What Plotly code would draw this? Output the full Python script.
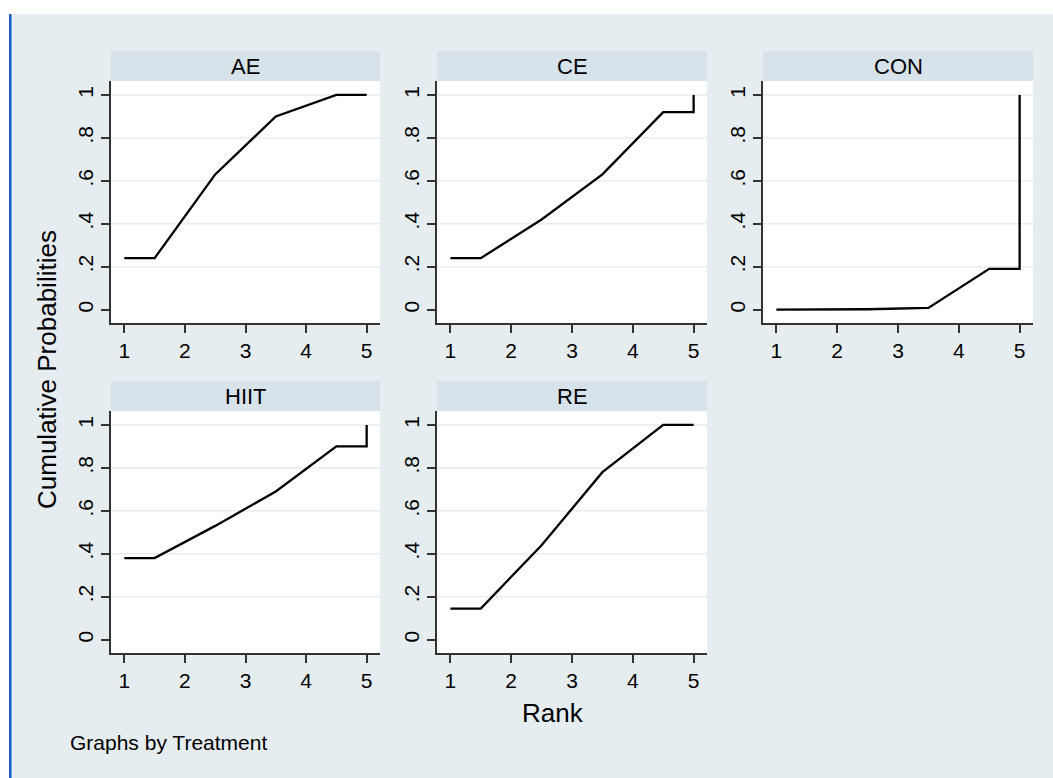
import plotly.graph_objects as go

# ---- data ----
treatments = ["AE", "CE", "CON", "HIIT", "RE"]
cum_AE = [0.24, 0.63, 0.90, 1.00, 1.00]
cum_CE = [0.24, 0.42, 0.63, 0.92, 1.00]
cum_CON = [0.00, 0.002, 0.008, 0.19, 1.00]
cum_HIIT = [0.38, 0.53, 0.69, 0.90, 1.00]
cum_RE = [0.145, 0.44, 0.78, 1.00, 1.00]
cum_values = [cum_AE, cum_CE, cum_CON, cum_HIIT, cum_RE]
rank_x = [1, 1.5, 2.5, 3.5, 4.5, 5, 5]
x_ticks = [1, 2, 3, 4, 5]
y_ticks = [0, 0.2, 0.4, 0.6, 0.8, 1]
y_ticklabels = ["0", ".2", ".4", ".6", ".8", "1"]

W, H = 1053, 778
FONT = "Liberation Sans, Arial, sans-serif"
BG = "#e5edf1"
STRIP = "#d6e3ea"
GRID = "#e6eef1"
AXC = "#333333"

# panel pixel geometry (left, right) x (top, bottom)
cols_px = [(111, 380), (437, 707), (763, 1033)]
rows_px = [(81, 323), (411, 653)]
strip_h = 30

fig = go.Figure()
shapes = []
annotations = []

for i, (name, cv) in enumerate(zip(treatments, cum_values)):
    r, c = divmod(i, 3)
    idx = i + 1
    xa = "xaxis" if idx == 1 else f"xaxis{idx}"
    ya = "yaxis" if idx == 1 else f"yaxis{idx}"
    xr = "x" if idx == 1 else f"x{idx}"
    yr = "y" if idx == 1 else f"y{idx}"
    x0p, x1p = cols_px[c]
    y0p, y1p = rows_px[r]
    xd = [x0p / W, x1p / W]
    yd = [1 - y1p / H, 1 - y0p / H]

    yvals = [cv[0], cv[0], cv[1], cv[2], cv[3], cv[3], cv[4]]
    fig.add_trace(go.Scatter(x=rank_x, y=yvals, mode="lines",
                             line=dict(color="black", width=2.3),
                             xaxis=xr, yaxis=yr, showlegend=False,
                             hoverinfo="skip"))

    fig.layout[xa] = dict(domain=xd, range=[0.78, 5.22], tickvals=x_ticks,
                          ticks="outside", ticklen=8, tickwidth=1.6,
                          tickcolor=AXC, showline=True, linecolor=AXC,
                          linewidth=2, showgrid=False, zeroline=False,
                          tickfont=dict(family=FONT, size=21, color="black"),
                          anchor=yr, fixedrange=True)
    fig.layout[ya] = dict(domain=yd, range=[-0.062, 1.065], tickvals=y_ticks,
                          ticktext=y_ticklabels, tickangle=-90,
                          ticks="outside", ticklen=8, tickwidth=1.6,
                          tickcolor=AXC, showline=True, linecolor=AXC,
                          linewidth=2, showgrid=False, zeroline=False,
                          tickfont=dict(family=FONT, size=21, color="black"),
                          anchor=xr, fixedrange=True)

    # gridlines (skip 0)
    for v in y_ticks[1:]:
        shapes.append(dict(type="line", xref=f"{xr} domain", yref=yr,
                           x0=0, x1=1, y0=v, y1=v, layer="below",
                           line=dict(color=GRID, width=1.5)))
    # strip
    shapes.append(dict(type="rect", xref="paper", yref="paper",
                       x0=x0p / W, x1=x1p / W,
                       y0=1 - y0p / H, y1=1 - (y0p - strip_h) / H,
                       fillcolor=STRIP, line=dict(width=0), layer="below"))
    annotations.append(dict(text=name, xref="paper", yref="paper",
                            x=(x0p + x1p) / 2 / W,
                            y=1 - (y0p - strip_h / 2) / H,
                            xanchor="center", yanchor="middle", showarrow=False,
                            font=dict(family=FONT, size=22, color="black")))

# outer frame: white top band, left band, blue rule
shapes.append(dict(type="rect", xref="paper", yref="paper", x0=0, x1=1,
                   y0=1 - 14 / H, y1=1, fillcolor="white", line=dict(width=0),
                   layer="below"))
shapes.append(dict(type="rect", xref="paper", yref="paper", x0=0, x1=9 / W,
                   y0=0, y1=1, fillcolor="white", line=dict(width=0),
                   layer="below"))
shapes.append(dict(type="rect", xref="paper", yref="paper", x0=9 / W, x1=11.5 / W,
                   y0=0, y1=1 - 14 / H, fillcolor="#1a5cc4", line=dict(width=0),
                   layer="below"))

annotations.append(dict(text="Rank", xref="paper", yref="paper",
                        x=553 / W, y=1 - 713 / H, xanchor="center",
                        yanchor="middle", showarrow=False,
                        font=dict(family=FONT, size=26, color="black")))
annotations.append(dict(text="Cumulative Probabilities", xref="paper",
                        yref="paper", x=47 / W, y=1 - 370 / H,
                        xanchor="center", yanchor="middle", textangle=-90,
                        showarrow=False,
                        font=dict(family=FONT, size=26, color="black")))
annotations.append(dict(text="Graphs by Treatment", xref="paper", yref="paper",
                        x=68 / W, y=1 - 742 / H, xanchor="left",
                        yanchor="middle", showarrow=False,
                        font=dict(family=FONT, size=21, color="black")))

fig.update_layout(width=W, height=H, margin=dict(l=0, r=0, t=0, b=0),
                  paper_bgcolor=BG, plot_bgcolor="white",
                  shapes=shapes, annotations=annotations, showlegend=False)

fig.write_html("out.html", config={"displayModeBar": False},
               post_script="document.body.style.margin='0';"
                           "document.body.style.overflow='hidden';")
